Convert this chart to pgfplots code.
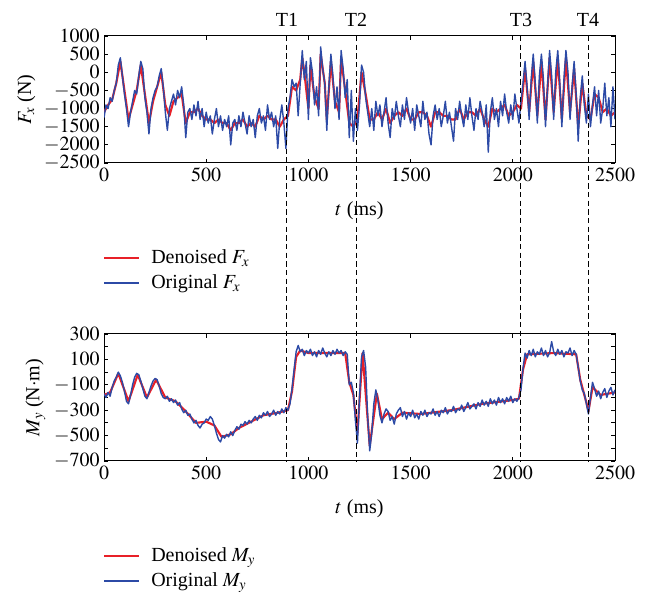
\documentclass[border=0pt]{standalone}
\usepackage{mathptmx}
\usepackage{fontspec}
\setmainfont{Liberation Serif}
\usepackage{pgfplots}
\pgfplotsset{compat=1.18}

\definecolor{dred}{RGB}{232,32,40}
\definecolor{oblue}{RGB}{44,74,166}
\newcommand{\fs}{\fontsize{15}{17}\selectfont}

\pgfplotsset{
  myax/.style={scale only axis,width=383.25pt,height=95.25pt,
    xmin=0,xmax=2500,xtick={0,500,...,2500},
    tick align=inside,major tick length=3pt,minor tick length=3pt,
    axis line style={line width=0.75pt},
    every tick/.style={black,line width=0.6pt},
    tick label style={font=\fs},label style={font=\fs},
    yticklabel style={inner sep=0pt,xshift=-3pt},
    /pgf/number format/1000 sep={},
    xlabel={$t$ (ms)},
    xlabel style={yshift=-8pt},
    ylabel style={yshift=3pt},
    legend cell align=left,
    legend style={draw=none,fill=none,font=\fs,at={(-0.01,-0.655)},anchor=north west,row sep=6pt,
      column sep=8pt,nodes={inner sep=0.5pt}},
    legend image code/.code={\draw[##1] (0pt,0pt) -- (26pt,0pt);},
  },
  den/.style={color=dred,line width=1.6pt,no marks,line join=round},
  org/.style={color=oblue,line width=1.05pt,no marks,line join=round},
}

\begin{document}
\begin{tikzpicture}
\useasboundingbox (0,0) rectangle (487.5pt,449.25pt);

% top: F_x
\begin{axis}[myax,at={(78pt,327pt)},anchor=south west,
  ymin=-2500,ymax=1000,ytick={-2500,-2000,...,1000},
  ylabel={$F_x$ (N)}]
\addplot[den] coordinates {(0,-1100)(20,-900)(40,-750)(60,-300)(80,300)(100,-500)(120,-1300)(140,-900)(160,-500)(180,200)(200,-600)(220,-1400)(240,-800)(260,-400)(280,0)(300,-900)(320,-1200)(340,-800)(360,-700)(380,-600)(400,-1400)(420,-1100)(440,-1100)(460,-1000)(480,-1200)(500,-1300)(520,-1300)(540,-1400)(560,-1300)(580,-1400)(600,-1400)(620,-1600)(640,-1400)(660,-1400)(680,-1300)(700,-1500)(720,-1400)(740,-1500)(760,-1200)(780,-1300)(800,-1200)(820,-1300)(840,-1300)(860,-1500)(880,-1300)(900,-1200)(920,-400)(940,-500)(960,-200)(970,400)(980,0)(1000,-1000)(1010,200)(1030,-700)(1050,-1000)(1060,500)(1080,-300)(1090,-1300)(1110,300)(1130,-800)(1150,-1100)(1160,400)(1180,-500)(1200,-1400)(1220,-1500)(1240,-1300)(1260,0)(1280,-600)(1300,-1300)(1320,-1300)(1340,-1100)(1360,-1300)(1380,-1000)(1400,-1400)(1420,-1200)(1440,-1100)(1460,-1200)(1480,-1000)(1500,-1300)(1520,-1300)(1540,-1100)(1560,-1100)(1580,-1200)(1600,-1500)(1620,-1100)(1640,-1100)(1660,-1200)(1680,-1200)(1700,-1300)(1720,-1300)(1740,-1000)(1760,-1300)(1780,-1100)(1800,-1100)(1820,-1200)(1840,-1000)(1860,-1300)(1880,-1500)(1900,-1000)(1920,-1100)(1940,-1000)(1960,-900)(1980,-1200)(2000,-1100)(2020,-900)(2040,-1000)(2060,100)(2080,-1100)(2100,300)(2120,-1200)(2140,300)(2160,-1300)(2180,400)(2200,-1100)(2220,400)(2240,-1300)(2260,400)(2280,-1100)(2300,100)(2320,-1500)(2340,-300)(2360,-1200)(2380,-1300)(2400,-600)(2420,-700)(2440,-1100)(2460,-1000)(2480,-1200)(2500,-1100)};
\addlegendentry{Denoised $F_x$}
\addplot[org] coordinates {(0,-1250)(10,-900)(20,-1000)(30,-700)(40,-800)(50,-500)(60,-300)(70,200)(80,400)(90,-100)(100,-600)(110,-1000)(120,-1500)(130,-1100)(140,-800)(150,-500)(160,-600)(170,-100)(180,300)(190,100)(200,-700)(210,-1100)(220,-1700)(230,-1000)(240,-700)(250,-500)(260,-400)(270,-100)(280,100)(290,-400)(300,-1100)(310,-1600)(320,-1000)(330,-800)(340,-600)(350,-900)(360,-500)(370,-700)(380,-400)(390,-900)(400,-1800)(410,-1100)(420,-1000)(430,-1300)(440,-900)(450,-1200)(460,-800)(470,-1300)(480,-1000)(490,-1500)(500,-1100)(510,-1400)(520,-1200)(530,-1700)(540,-1300)(550,-1000)(560,-1500)(570,-1200)(580,-1600)(590,-1300)(600,-1500)(610,-1200)(620,-2000)(630,-1400)(640,-1300)(650,-1600)(660,-1200)(670,-1500)(680,-1100)(690,-1400)(700,-1700)(710,-1200)(720,-1500)(730,-1300)(740,-1800)(750,-1200)(760,-1000)(770,-1400)(780,-1200)(790,-1600)(800,-900)(810,-1300)(820,-1100)(830,-1500)(840,-1200)(850,-2100)(860,-1300)(870,-900)(880,-1400)(890,-2100)(900,-1000)(910,-700)(920,-200)(930,-400)(940,-300)(950,-1200)(960,-300)(970,600)(980,-200)(990,300)(1000,-1300)(1010,400)(1020,0)(1030,-900)(1040,-400)(1050,-1200)(1060,700)(1070,100)(1080,-300)(1090,-1600)(1100,-400)(1110,500)(1120,-100)(1130,-1000)(1140,-400)(1150,-1300)(1160,600)(1170,100)(1180,-700)(1190,-200)(1200,-1800)(1210,-500)(1220,-1900)(1230,-1000)(1240,-1600)(1250,-900)(1260,200)(1270,0)(1280,-700)(1290,-1100)(1300,-1500)(1310,-1000)(1320,-1600)(1330,-800)(1340,-1200)(1350,-900)(1360,-1500)(1370,-1100)(1380,-700)(1390,-1400)(1400,-1800)(1410,-1000)(1420,-1300)(1430,-800)(1440,-1200)(1450,-1500)(1460,-900)(1470,-1300)(1480,-700)(1490,-1100)(1500,-1400)(1510,-1000)(1520,-1600)(1530,-900)(1540,-1200)(1550,-1500)(1560,-800)(1570,-1300)(1580,-1100)(1590,-1700)(1600,-2000)(1610,-1200)(1620,-900)(1630,-1300)(1640,-1000)(1650,-1500)(1660,-1200)(1670,-800)(1680,-1400)(1690,-1100)(1700,-1500)(1710,-1900)(1720,-1000)(1730,-1300)(1740,-800)(1750,-1200)(1760,-1500)(1770,-900)(1780,-1300)(1790,-700)(1800,-1200)(1810,-1600)(1820,-1000)(1830,-1300)(1840,-800)(1850,-1100)(1860,-1500)(1870,-900)(1880,-2200)(1890,-1100)(1900,-700)(1910,-1300)(1920,-1000)(1930,-1500)(1940,-800)(1950,-1200)(1960,-600)(1970,-1100)(1980,-1400)(1990,-900)(2000,-1300)(2010,-600)(2020,-1000)(2030,-1400)(2040,-800)(2050,-300)(2060,300)(2070,-400)(2080,-1300)(2090,-200)(2100,500)(2110,-300)(2120,-1400)(2130,-100)(2140,500)(2150,-200)(2160,-1500)(2170,-400)(2180,600)(2190,-100)(2200,-1300)(2210,0)(2220,600)(2230,-300)(2240,-1500)(2250,-200)(2260,600)(2270,0)(2280,-1300)(2290,-400)(2300,300)(2310,-600)(2320,-1900)(2330,-700)(2340,-100)(2350,-900)(2360,-1400)(2370,-600)(2380,-1500)(2390,-900)(2400,-400)(2410,-1200)(2420,-500)(2430,-1400)(2440,-1000)(2450,-300)(2460,-1200)(2470,-700)(2480,-1500)(2490,-400)(2500,-1300)};
\addlegendentry{Original $F_x$}
\coordinate (a1) at (axis cs:895,1000);
\coordinate (a2) at (axis cs:1233,1000);
\coordinate (a3) at (axis cs:2040,1000);
\coordinate (a4) at (axis cs:2368,1000);
\end{axis}

% bottom: M_y
\begin{axis}[myax,at={(78pt,103.5pt)},anchor=south west,
  ymin=-700,ymax=300,ytick={-700,-500,...,300},minor ytick={-600,-400,...,200},
  ylabel={$M_y$ (N$\cdot$m)}]
\addplot[den] coordinates {(0,-180)(30,-160)(70,-10)(120,-230)(165,-20)(210,-200)(255,-60)(300,-200)(350,-230)(400,-310)(450,-400)(500,-390)(540,-420)(575,-510)(620,-490)(660,-440)(720,-390)(780,-340)(850,-320)(900,-300)(920,-150)(940,120)(960,170)(1000,150)(1100,150)(1180,150)(1200,-80)(1220,-180)(1240,-480)(1265,150)(1300,-580)(1335,-170)(1360,-370)(1390,-320)(1420,-370)(1460,-320)(1550,-330)(1700,-300)(1850,-250)(2000,-220)(2030,-210)(2050,20)(2070,140)(2200,150)(2310,140)(2330,-60)(2360,-240)(2370,-310)(2390,-120)(2430,-180)(2500,-160)};
\addlegendentry{Denoised $M_y$}
\addplot[org] coordinates {(0,-170)(10,-200)(20,-160)(30,-190)(40,-120)(50,-70)(60,-40)(70,0)(80,-30)(90,-80)(100,-150)(110,-230)(120,-250)(130,-180)(140,-100)(150,-40)(160,-10)(170,-20)(180,-70)(190,-130)(200,-190)(210,-210)(220,-160)(230,-110)(240,-70)(250,-50)(260,-60)(270,-110)(280,-170)(290,-200)(300,-210)(310,-190)(320,-230)(330,-210)(340,-240)(350,-220)(360,-260)(370,-240)(380,-290)(390,-320)(400,-300)(410,-340)(420,-330)(430,-370)(440,-400)(450,-380)(460,-420)(470,-440)(480,-410)(490,-400)(500,-370)(510,-380)(520,-350)(530,-370)(540,-420)(550,-480)(560,-530)(570,-550)(580,-500)(590,-520)(600,-490)(610,-510)(620,-470)(630,-500)(640,-460)(650,-430)(660,-450)(670,-410)(680,-420)(690,-390)(700,-410)(710,-380)(720,-400)(730,-370)(740,-350)(750,-380)(760,-340)(770,-360)(780,-320)(790,-340)(800,-310)(810,-350)(820,-330)(830,-300)(840,-340)(850,-310)(860,-330)(870,-290)(880,-320)(890,-280)(900,-300)(910,-250)(920,-130)(930,20)(940,160)(950,210)(960,160)(970,180)(980,130)(990,170)(1000,150)(1010,180)(1020,130)(1030,160)(1040,120)(1050,170)(1060,140)(1070,190)(1080,150)(1090,120)(1100,160)(1110,130)(1120,170)(1130,140)(1140,180)(1150,150)(1160,170)(1170,130)(1180,160)(1190,140)(1200,-100)(1210,-80)(1220,-160)(1230,-380)(1240,-560)(1250,-200)(1260,120)(1270,170)(1280,40)(1290,-350)(1300,-620)(1310,-480)(1320,-250)(1330,-140)(1340,-220)(1350,-340)(1360,-400)(1370,-330)(1380,-290)(1390,-310)(1400,-380)(1410,-350)(1420,-410)(1430,-330)(1440,-300)(1450,-280)(1460,-350)(1470,-310)(1480,-370)(1490,-320)(1500,-350)(1510,-300)(1520,-360)(1530,-330)(1540,-370)(1550,-310)(1560,-340)(1570,-300)(1580,-350)(1590,-320)(1600,-330)(1610,-290)(1620,-340)(1630,-310)(1640,-350)(1650,-300)(1660,-320)(1670,-280)(1680,-330)(1690,-300)(1700,-310)(1710,-270)(1720,-320)(1730,-290)(1740,-300)(1750,-260)(1760,-310)(1770,-280)(1780,-240)(1790,-290)(1800,-270)(1810,-250)(1820,-290)(1830,-240)(1840,-270)(1850,-220)(1860,-260)(1870,-230)(1880,-270)(1890,-210)(1900,-250)(1910,-220)(1920,-260)(1930,-200)(1940,-240)(1950,-210)(1960,-250)(1970,-200)(1980,-230)(1990,-190)(2000,-240)(2010,-210)(2020,-230)(2030,-200)(2040,-140)(2050,30)(2060,150)(2070,110)(2080,170)(2090,130)(2100,180)(2110,120)(2120,160)(2130,140)(2140,190)(2150,130)(2160,170)(2170,120)(2180,150)(2190,240)(2200,160)(2210,130)(2220,180)(2230,140)(2240,170)(2250,120)(2260,160)(2270,150)(2280,190)(2290,130)(2300,170)(2310,140)(2320,40)(2330,-70)(2340,-140)(2350,-170)(2360,-250)(2370,-330)(2380,-200)(2390,-80)(2400,-130)(2410,-190)(2420,-150)(2430,-210)(2440,-160)(2450,-130)(2460,-200)(2470,-150)(2480,-120)(2490,-180)(2500,-140)};
\addlegendentry{Original $M_y$}
\coordinate (b1) at (axis cs:895,-700);
\coordinate (b2) at (axis cs:1233,-700);
\coordinate (b3) at (axis cs:2040,-700);
\coordinate (b4) at (axis cs:2368,-700);
\end{axis}

\foreach \i in {1,2,3,4}{
  \draw[black,line width=0.75pt,dash pattern=on 4pt off 2.5pt] (a\i) -- (b\i);
  \node[font=\fs,anchor=south,inner sep=0pt,yshift=7pt] at (a\i) {T\i};
}
\end{tikzpicture}
\end{document}
